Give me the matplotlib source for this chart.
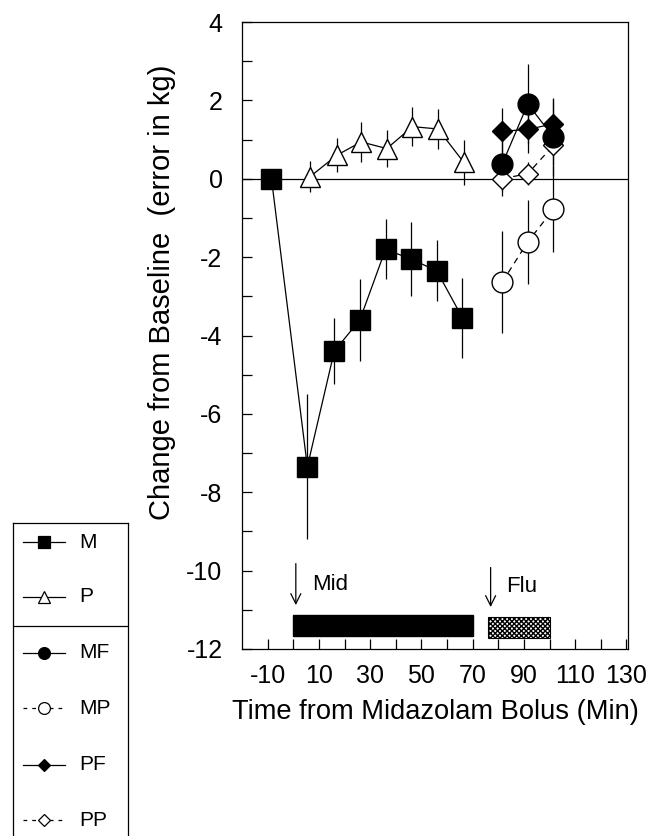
import matplotlib
matplotlib.use("Agg")
import matplotlib.pyplot as plt

plt.rcParams['font.family'] = ['Liberation Sans', 'DejaVu Sans']

# time (min) and change from baseline (kg)
m_time = [-8.5, 5.5, 16, 26, 36, 46, 56, 66]
m_val = [0, -7.35, -4.4, -3.6, -1.8, -2.05, -2.35, -3.55]
m_err = [0, 1.85, 0.85, 1.05, 0.77, 0.95, 0.78, 1.02]

p_time = [6.5, 17, 26.5, 36.5, 46.5, 56.5, 66.5]
p_val = [0.05, 0.6, 0.94, 0.77, 1.33, 1.27, 0.42]
p_err = [0.4, 0.43, 0.5, 0.47, 0.5, 0.5, 0.57]

flu_time = [81.5, 91.5, 101.5]
mf_val = [0.37, 1.91, 1.06]
mf_err = [0.8, 1.02, 1.0]
mp_val = [-2.64, -1.61, -0.78]
mp_err = [1.3, 1.07, 1.1]
pf_val = [1.21, 1.26, 1.4]
pf_err = [0.6, 0.6, 0.63]
pp_val = [0.0, 0.13, 0.85]
pp_err = [0.3, 0.3, 0.5]

mid_period = (0, 70)
flu_period = (76, 100)

x_major = [-10, 10, 30, 50, 70, 90, 110, 130]
x_minor = [0, 20, 40, 60, 80, 100, 120]
y_major = [-12, -10, -8, -6, -4, -2, 0, 2, 4]
y_minor = [-11, -9, -7, -5, -3, -1, 1, 3]

fig = plt.figure(figsize=(6.51, 8.36), dpi=100)
ax = fig.add_axes([242 / 651, 1 - 649 / 836, 386 / 651, 627 / 836])

ax.axhline(0, color='black', lw=0.9, zorder=1)

series = [
    (m_time, m_val, m_err, 's', 'black', '-', 14.4),
    (p_time, p_val, p_err, '^', 'white', '-', 14.4),
    (flu_time, mp_val, mp_err, 'o', 'white', (0, (5, 4)), 15),
    (flu_time, pp_val, pp_err, 'D', 'white', (0, (5, 4)), 10),
    (flu_time, mf_val, mf_err, 'o', 'black', '-', 15),
    (flu_time, pf_val, pf_err, 'D', 'black', '-', 10),
]
for x, y, e, mk, fc, ls, ms in series:
    ax.errorbar(x, y, yerr=e, fmt=mk, ls=ls, color='black', mfc=fc, mec='black',
                ms=ms, mew=1.0, lw=0.9, elinewidth=0.9, capsize=0, zorder=3)

# infusion bars
ax.barh(-11.4, mid_period[1] - mid_period[0], left=mid_period[0], height=0.55,
        color='black', edgecolor='black')
ax.barh(-11.45, flu_period[1] - flu_period[0], left=flu_period[0], height=0.55,
        color='white', edgecolor='black', hatch='xxxxxxx', lw=0.8)

arrow = dict(arrowstyle='->', color='black', lw=0.9, mutation_scale=18)
ax.annotate('', xy=(mid_period[0] + 1, -10.95), xytext=(mid_period[0] + 1, -9.75),
            arrowprops=arrow)
ax.annotate('', xy=(flu_period[0] + 1, -11.0), xytext=(flu_period[0] + 1, -9.85),
            arrowprops=arrow)
ax.text(7.5, -10.35, 'Mid', fontsize=16, va='center', ha='left')
ax.text(83, -10.4, 'Flu', fontsize=16, va='center', ha='left')

ax.set_xlim(-20, 130.6)
ax.set_ylim(-12, 4)
ax.set_xticks(x_major)
ax.set_xticklabels([str(v) for v in x_major])
ax.set_xticks(x_minor, minor=True)
ax.set_yticks(y_major)
ax.set_yticklabels([str(v) for v in y_major])
ax.set_yticks(y_minor, minor=True)
ax.tick_params(axis='both', which='both', direction='in', length=7, width=0.9,
               labelsize=18)
ax.tick_params(axis='x', which='both', pad=11)
ax.tick_params(axis='y', which='both', pad=14)
for s in ax.spines.values():
    s.set_linewidth(0.9)

ax.set_xlabel('Time from Midazolam Bolus (Min)', fontsize=19.6, labelpad=8)
ax.set_ylabel('Change from Baseline  (error in kg)', fontsize=21)
ax.yaxis.set_label_coords(-0.17, 0.569)

# legend box
lg = fig.add_axes([13 / 651, 0, 115 / 651, 313 / 836])
lg.set_xlim(13, 128)
lg.set_ylim(836, 523)
lg.set_xticks([])
lg.set_yticks([])
lg.spines['bottom'].set_visible(False)
for s in lg.spines.values():
    s.set_linewidth(0.9)
lg.axhline(626, color='black', lw=0.9)
entries = [
    ('M', 's', 'black', '-', 542),
    ('P', '^', 'white', '-', 597),
    ('MF', 'o', 'black', '-', 653),
    ('MP', 'o', 'white', (0, (3, 4)), 708),
    ('PF', 'D', 'black', '-', 765),
    ('PP', 'D', 'white', (0, (3, 4)), 820),
]
for lab, mk, fc, ls, yy in entries:
    lg.plot([23, 65], [yy, yy], color='black', ls=ls, lw=0.9)
    lg.plot([44], [yy], marker=mk, color='black', mfc=fc, mec='black',
            ms=6 if mk == 'D' else 8.5, mew=0.9)
    lg.text(79, yy, lab, fontsize=15, va='center', ha='left')

fig.savefig('out.png', dpi=100)
